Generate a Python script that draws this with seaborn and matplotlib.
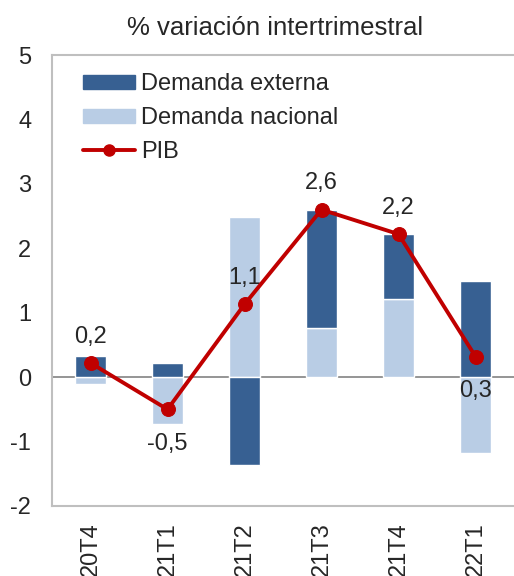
import numpy as np
import pandas as pd
import matplotlib
matplotlib.use("Agg")
import matplotlib.pyplot as plt
import seaborn as sns
from matplotlib.patches import Patch
from matplotlib.lines import Line2D

trimestres = ["20T4", "21T1", "21T2", "21T3", "21T4", "22T1"]
demanda_externa = [0.33, 0.22, -1.37, 1.83, 1.01, 1.49]
demanda_nacional = [-0.11, -0.72, 2.49, 0.77, 1.21, -1.17]
pib = [0.22, -0.5, 1.13, 2.6, 2.22, 0.32]
etiqueta_arriba = [True, False, True, True, True, False]

sns.set_style("white")
plt.rcParams["font.family"] = ["Liberation Sans", "DejaVu Sans"]
plt.rcParams["axes.unicode_minus"] = False

oscuro = "#376092"
claro = "#B9CDE5"
rojo = "#C00000"

df = pd.DataFrame({"trimestre": trimestres, "externa": demanda_externa,
                   "nacional": demanda_nacional, "pib": pib})
x = np.arange(len(df))

fig = plt.figure(figsize=(5.14, 5.76), dpi=100)
ax = fig.add_axes([52 / 514, 70 / 576, 462 / 514, 451 / 576])

# nacional primero, externa apilada encima si tiene el mismo signo
ax.bar(x, df["nacional"], width=0.39, color=claro, zorder=2)
base = np.where(np.sign(df["externa"]) == np.sign(df["nacional"]), df["nacional"], 0)
ax.bar(x, df["externa"], width=0.39, bottom=base, color=oscuro, zorder=2)

ax.axhline(0, color="#8C8C8C", lw=1.3, zorder=1)

sns.lineplot(x=x, y=df["pib"], ax=ax, color=rojo, lw=2.8, marker="o",
             markersize=10, markeredgecolor=rojo, zorder=4)
ax.set_ylabel("")

for xi, v, arriba in zip(x, df["pib"], etiqueta_arriba):
    txt = f"{v:.1f}".replace(".", ",")
    ax.annotate(txt, (xi, v), xytext=(0, 19 if arriba else -25),
                textcoords="offset points", ha="center", va="center",
                fontsize=17)

ax.set_xlim(-0.5, 5.5)
ax.set_ylim(-2, 5)
ax.set_yticks(range(-2, 6))
ax.set_xticks(x)
ax.set_xticklabels(df["trimestre"], rotation=90)
ax.tick_params(axis="both", length=0, labelsize=17)
ax.tick_params(axis="y", pad=15)
ax.tick_params(axis="x", pad=12)

for s in ["left", "top", "bottom"]:
    ax.spines[s].set_color("#BFBFBF")
    ax.spines[s].set_linewidth(1.5)
ax.spines["right"].set_visible(False)

handles = [Patch(color=oscuro), Patch(color=claro),
           Line2D([], [], color=rojo, lw=2.8, marker="o", markersize=8)]
ax.legend(handles, ["Demanda externa", "Demanda nacional", "PIB"],
          loc="upper left", bbox_to_anchor=(0.067, 0.96), frameon=False,
          fontsize=17, handlelength=2.2, handleheight=0.55, handletextpad=0.25,
          labelspacing=0.51, borderpad=0, borderaxespad=0)

fig.text(275 / 514, 1 - 35 / 576, "% variación intertrimestral",
         ha="center", va="baseline", fontsize=18.5)

fig.savefig("out.png", dpi=100)
